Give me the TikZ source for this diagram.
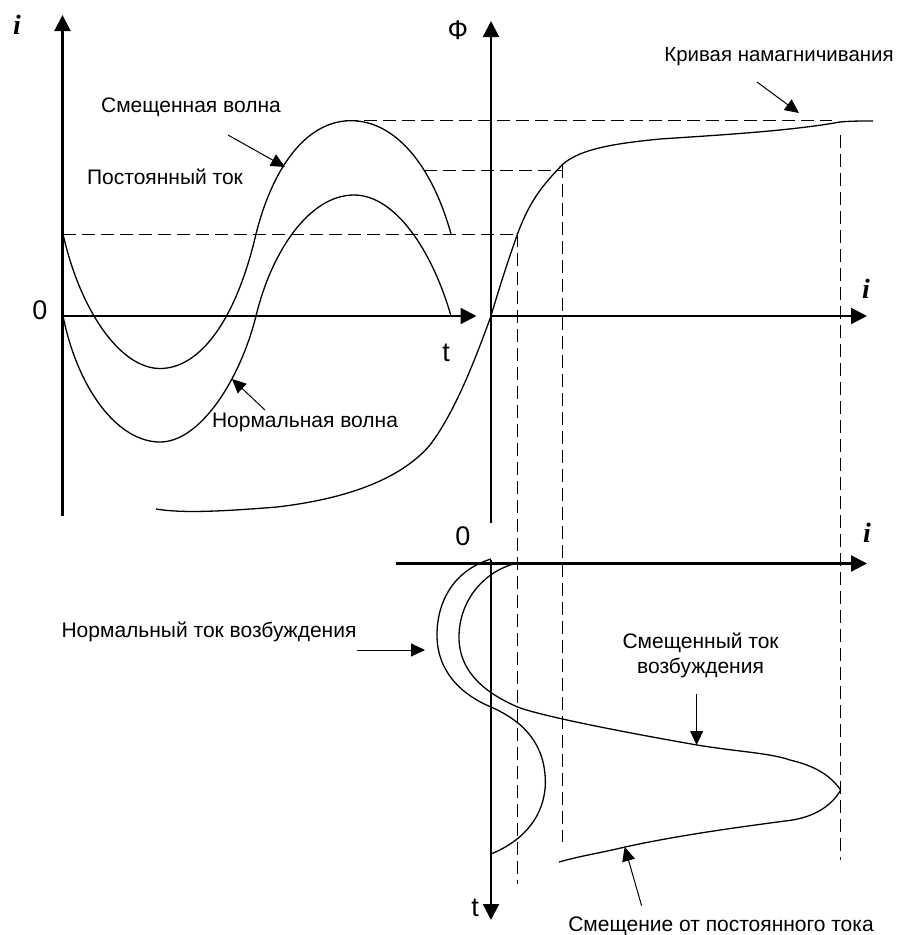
\documentclass[tikz,border=0pt]{standalone}
\usepackage{fontspec}
\setmainfont{Liberation Sans}
\newfontfamily\serifbi{Liberation Serif}
\usetikzlibrary{arrows.meta}
\tikzset{
  axisline/.style={line width=2.2pt,-{Triangle[length=16pt,width=16pt]}},
  curveline/.style={line width=1.3pt,line join=round},
  dashline/.style={line width=1pt,dash pattern=on 13pt off 6pt},
  callout/.style={line width=1pt,-{Triangle[length=14pt,width=13pt]}},
  lab/.style={inner sep=0pt,font=\fontsize{21pt}{25pt}\selectfont,align=center},
  big/.style={inner sep=0pt,font=\fontsize{27pt}{28pt}\selectfont},
  ivar/.style={inner sep=0pt,font=\fontsize{28pt}{28pt}\serifbi\bfseries\itshape}
}
\begin{document}
\begin{tikzpicture}[x=1pt,y=-1pt]
\useasboundingbox[fill=white] (0,0) rectangle (908,935);
% axis points
\coordinate (aTop) at (62.5,15);
\coordinate (aBot) at (62.5,516);
\coordinate (aO) at (62.5,316);
\coordinate (aT) at (476.5,316);
\coordinate (fTop) at (491,21);
\coordinate (fBot) at (491,523);
\coordinate (fO) at (491,316);
\coordinate (fI) at (867,316);
\coordinate (bL) at (396,563.5);
\coordinate (bR) at (867,563.5);
\coordinate (bO) at (491,560);
\coordinate (bT) at (491,920);
% dashed end points
\coordinate (d1a) at (63,234);
\coordinate (d1b) at (517.5,234);
\coordinate (d2a) at (424,170.7);
\coordinate (d2b) at (562,170.7);
\coordinate (d3a) at (345,120.7);
\coordinate (d3b) at (832,120.7);
\coordinate (v1a) at (517.5,234);
\coordinate (v1b) at (517.5,884);
\coordinate (v2a) at (562,165);
\coordinate (v2b) at (562,842);
\coordinate (v3a) at (840,135);
\coordinate (v3b) at (840,860);
% axes
\draw[axisline] (aBot) -- (aTop);
\draw[axisline] (aO) -- (aT);
\draw[axisline] (fBot) -- (fTop);
\draw[axisline] (fO) -- (fI);
\draw[axisline] (bL) -- (bR);
\draw[axisline] (bO) -- (bT);
% dashed guides
\draw[dashline] (d1a) -- (d1b);
\draw[dashline] (d2a) -- (d2b);
\draw[dashline] (d3a) -- (d3b);
\draw[dashline] (v1a) -- (v1b);
\draw[dashline] (v2a) -- (v2b);
\draw[dashline] (v3a) -- (v3b);
% normal wave
\draw[curveline] (63,316) .. controls (78,390) and (118,442) .. (160,442)
  .. controls (200,442) and (240,380) .. (256,316)
  .. controls (272,250) and (310,195) .. (354,195)
  .. controls (395,195) and (432,250) .. (451,316);
% shifted wave
\draw[curveline] (63,234) .. controls (80,310) and (120,368.5) .. (160,368.5)
  .. controls (200,368.5) and (236,320) .. (256,234)
  .. controls (272,170) and (305,120.7) .. (351,120.7)
  .. controls (395,120.7) and (432,165) .. (451,234);
% magnetisation curve
\draw[curveline] (156,509) .. controls (180,513) and (215,512) .. (277,507)
  .. controls (345,499) and (400,480) .. (430,445)
  .. controls (455,412) and (475,360) .. (491,316)
  .. controls (500,285) and (510,255) .. (517.5,234)
  .. controls (530,200) and (543,185) .. (562,165)
  .. controls (580,148) and (620,143) .. (660,139)
  .. controls (720,135) and (790,131) .. (840,122)
  .. controls (850,121) and (860,121) .. (873,121);
% normal exciting current
\draw[curveline] (491,559) .. controls (455,570) and (437,600) .. (437,635)
  .. controls (437,672) and (462,695) .. (491,707)
  .. controls (525,722) and (545,745) .. (545.4,782)
  .. controls (545,815) and (525,840) .. (491,854);
% shifted exciting current
\draw[curveline] (517.7,563) .. controls (485,570) and (459,600) .. (459,637)
  .. controls (459,675) and (490,695) .. (517.7,707)
  .. controls (535,714) and (600,728) .. (697,745)
  .. controls (740,752) and (770,753) .. (790,760)
  .. controls (815,766) and (830,775) .. (840.7,790)
  .. controls (832,805) and (815,818) .. (785,821)
  .. controls (740,827) and (680,835) .. (625,847)
  .. controls (600,853) and (580,856) .. (559,862);
% labels
\node[lab] (lSw) at (191,107) {Смещенная волна};
\node[lab] (lPt) at (165,177) {Постоянный ток};
\node[lab] (lNw) at (305,422) {Нормальная волна};
\node[lab,font=\fontsize{20.4pt}{25pt}\selectfont] (lKn) at (779,57) {Кривая намагничивания};
\node[lab] (lNt) at (209,632) {Нормальный ток возбуждения};
\node[lab] (lSt) at (700.6,655) {Смещенный ток\\возбуждения};
\node[lab] (lSp) at (721,926) {Смещение от постоянного тока};
\node[big] (n0a) at (40,310) {0};
\node[big] (nta) at (446,353) {t};
\node[big] (nF) at (458,30) {Ф};
\node[big] (n0b) at (463,536) {0};
\node[big] (ntb) at (475,908) {t};
\node[ivar] (ni1) at (17,25) {i};
\node[ivar] (ni2) at (866,289) {i};
\node[ivar] (ni3) at (867,533) {i};
% callouts
\coordinate (cSwA) at (228,135);
\coordinate (cSwB) at (285,167);
\coordinate (cNwA) at (265,410);
\coordinate (cNwB) at (232,379);
\coordinate (cKnA) at (757,82);
\coordinate (cKnB) at (799,113);
\coordinate (cNtA) at (357,650);
\coordinate (cNtB) at (425,650);
\coordinate (cStA) at (696.6,694);
\coordinate (cStB) at (696.6,745);
\coordinate (cSpA) at (641.6,905.7);
\coordinate (cSpB) at (624.7,847);
\draw[callout] (cSwA) -- (cSwB);
\draw[callout] (cNwA) -- (cNwB);
\draw[callout] (cKnA) -- (cKnB);
\draw[callout] (cNtA) -- (cNtB);
\draw[callout] (cStA) -- (cStB);
\draw[callout] (cSpA) -- (cSpB);
\end{tikzpicture}
\end{document}
